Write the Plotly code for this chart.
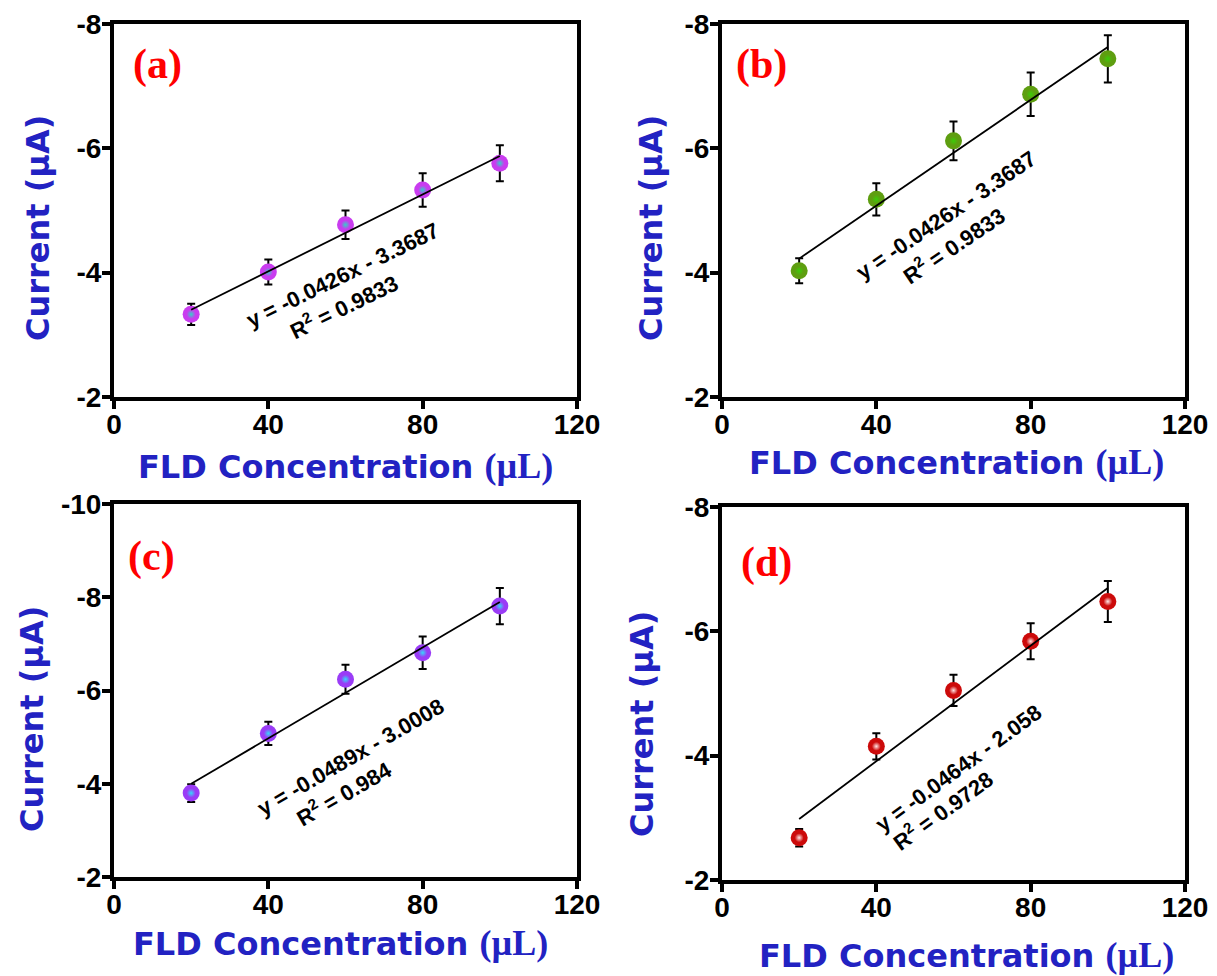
import numpy as np
import plotly.graph_objects as go

# page body has an 8px margin: the figure starts at (8, 8) on screen
OFF = 8
W, H = 1217 - OFF, 976 - OFF

conc = [20, 40, 60, 80, 100]
cur_a = [-3.33, -4.01, -4.77, -5.33, -5.76]
err_a = [0.17, 0.20, 0.23, 0.27, 0.29]
cur_b = [-4.03, -5.18, -6.12, -6.87, -7.44]
err_b = [0.20, 0.26, 0.31, 0.35, 0.38]
cur_c = [-3.80, -5.08, -6.24, -6.81, -7.81]
err_c = [0.19, 0.25, 0.31, 0.35, 0.39]
cur_d = [-2.68, -4.15, -5.05, -5.84, -6.48]
err_d = [0.14, 0.21, 0.25, 0.29, 0.33]

panel_labels = ["(a)", "(b)", "(c)", "(d)"]
eq_line1 = ["y = -0.0426x - 3.3687", "y = -0.0426x - 3.3687",
            "y = -0.0489x - 3.0008", "y = -0.0464x - 2.058"]
eq_line2 = ["R<sup>2</sup> = 0.9833", "R<sup>2</sup> = 0.9833",
            "R<sup>2</sup> = 0.984", "R<sup>2</sup> = 0.9728"]
x_ticks = [0, 40, 80, 120]
x_ticklabels = ["0", "40", "80", "120"]
y_ticks_abd = [-8, -6, -4, -2]
y_ticklabels_abd = ["-8", "-6", "-4", "-2"]
y_ticks_c = [-10, -8, -6, -4, -2]
y_ticklabels_c = ["-10", "-8", "-6", "-4", "-2"]

series = [(cur_a, err_a), (cur_b, err_b), (cur_c, err_c), (cur_d, err_d)]
edge_cols = ["#C93CEF", "#5E9E10", "#9A3CF6", "#CC0A0A"]
hi_cols = ["#35CFC8", "#3CCB08", "#35D8FA", "#FFE6E6"]

# screen-pixel layout of each panel: (left, right, top, bottom)
boxes = [(114, 577, 24, 397), (722, 1185, 24, 397),
         (114, 577, 504, 877), (722, 1185, 507, 880)]
y_ranges = [[-2, -8], [-2, -8], [-2, -10], [-2, -8]]
y_tickvals = [y_ticks_abd, y_ticks_abd, y_ticks_c, y_ticks_abd]
y_ticktexts = [y_ticklabels_abd, y_ticklabels_abd, y_ticklabels_c, y_ticklabels_abd]

def px(x):
    return (x - OFF) / W

def py(y):
    return 1 - (y - OFF) / H

fig = go.Figure()
layout = dict(width=W, height=H,
              margin=dict(l=0, r=0, t=0, b=0, pad=0, autoexpand=False),
              paper_bgcolor="white", plot_bgcolor="white", showlegend=False)
annotations = []

label_pos = [(157, 64), (761, 64), (151, 556), (766, 562)]
eq_pos = [((342, 275), (343, 306), -26),
          ((946, 216), (953, 245), -34),
          ((350, 757), (343, 793), -30),
          ((958, 768), (942, 810), -36)]
xt_pos = [(346, 466), (956, 462), (340, 943), (966, 955)]
yt_pos = [(38, 228), (651, 228), (32, 719), (642, 724)]

font_sans = "Arial, Liberation Sans, sans-serif"
font_wide = "DejaVu Sans, Arial, sans-serif"
font_serif = "Times New Roman, Liberation Serif, serif"
title_blue = "#2222C2"

for i, ((ys, es), box) in enumerate(zip(series, boxes)):
    n = "" if i == 0 else str(i + 1)
    xa, ya = "x" + n, "y" + n
    l, r, t, b = box
    layout["xaxis" + n] = dict(
        domain=[px(l), px(r)], anchor=ya, range=[0, 120],
        tickmode="array", tickvals=x_ticks, ticktext=x_ticklabels,
        showline=True, linewidth=4, linecolor="black", mirror=True,
        ticks="outside", ticklen=8, tickwidth=4, tickcolor="black",
        showgrid=False, zeroline=False, automargin=False,
        ticklabeloverflow="allow", ticklabelstandoff=-9,
        tickfont=dict(family=font_sans, size=28, color="black", weight="bold"))
    layout["yaxis" + n] = dict(
        domain=[py(b), py(t)], anchor=xa, range=y_ranges[i],
        tickmode="array", tickvals=y_tickvals[i], ticktext=y_ticktexts[i],
        showline=True, linewidth=4, linecolor="black", mirror=True,
        ticks="outside", ticklen=8, tickwidth=4, tickcolor="black",
        showgrid=False, zeroline=False, automargin=False,
        ticklabeloverflow="allow", ticklabelstandoff=-5,
        tickfont=dict(family=font_sans, size=28, color="black", weight="bold"))

    # markers with error bars
    fig.add_trace(go.Scatter(
        x=conc, y=ys, xaxis=xa, yaxis=ya, mode="markers",
        marker=dict(size=17, color=edge_cols[i], line=dict(width=0)),
        error_y=dict(type="data", array=es, visible=True, color="black",
                     thickness=2, width=4)))
    fig.add_trace(go.Scatter(
        x=conc, y=ys, xaxis=xa, yaxis=ya, mode="markers",
        marker=dict(size=9, color=edge_cols[i], line=dict(width=0),
                    gradient=dict(type="radial", color=hi_cols[i]))))
    # linear fit
    k, c0 = np.polyfit(conc, ys, 1)
    xf = np.array([conc[0], conc[-1]])
    fig.add_trace(go.Scatter(
        x=xf, y=k * xf + c0, xaxis=xa, yaxis=ya, mode="lines",
        line=dict(color="black", width=1.8)))

    # panel label
    lx, ly = label_pos[i]
    annotations.append(dict(x=px(lx), y=py(ly), xref="paper", yref="paper",
                            text="<b>" + panel_labels[i] + "</b>", showarrow=False,
                            xanchor="center", yanchor="middle",
                            font=dict(family=font_serif, size=42, color="#FF0000")))
    # equation
    (p1, p2, ang) = eq_pos[i]
    for (ex, ey), txt in ((p1, eq_line1[i]), (p2, eq_line2[i])):
        annotations.append(dict(x=px(ex), y=py(ey), xref="paper", yref="paper",
                                text="<b>" + txt + "</b>", showarrow=False,
                                textangle=ang, xanchor="center", yanchor="middle",
                                font=dict(family=font_sans, size=22, color="black")))
    # axis titles
    tx, ty = xt_pos[i]
    annotations.append(dict(
        x=px(tx), y=py(ty), xref="paper", yref="paper", showarrow=False,
        xanchor="center", yanchor="middle",
        text="<b>FLD Concentration <span style='font-family:\"Times New Roman\", \"Liberation Serif\", serif; font-size:36px'>(µL)</span></b>",
        font=dict(family=font_wide, size=32, color=title_blue)))
    yx, yy = yt_pos[i]
    annotations.append(dict(
        x=px(yx), y=py(yy), xref="paper", yref="paper", showarrow=False,
        xanchor="center", yanchor="middle", textangle=-90,
        text="<b>Current (µA)</b>",
        font=dict(family=font_wide, size=32, color=title_blue)))

layout["annotations"] = annotations
fig.update_layout(**layout)
fig.write_html("out.html")
